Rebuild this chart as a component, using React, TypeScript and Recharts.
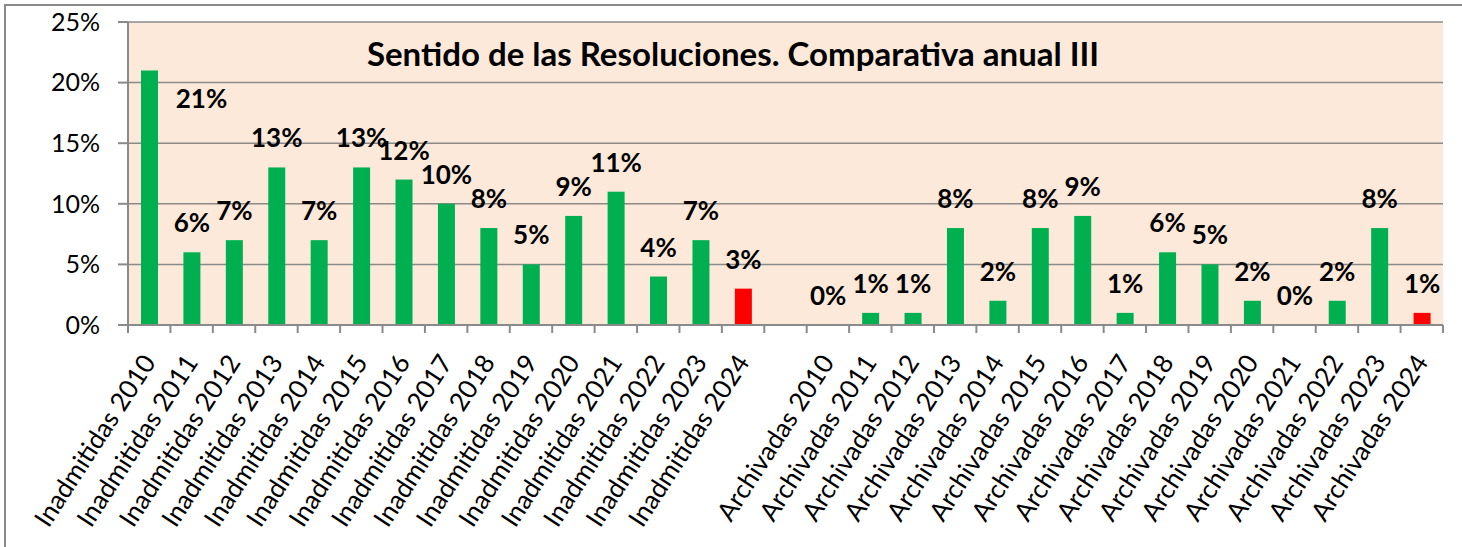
import React from 'react';
import { BarChart, Bar, XAxis, YAxis, CartesianGrid, Cell } from 'recharts';

const inadmitidasYears = [2010, 2011, 2012, 2013, 2014, 2015, 2016, 2017, 2018, 2019, 2020, 2021, 2022, 2023, 2024];
const inadmitidasValues = [21, 6, 7, 13, 7, 13, 12, 10, 8, 5, 9, 11, 4, 7, 3];
const archivadasYears = [2010, 2011, 2012, 2013, 2014, 2015, 2016, 2017, 2018, 2019, 2020, 2021, 2022, 2023, 2024];
const archivadasValues = [0, 1, 1, 8, 2, 8, 9, 1, 6, 5, 2, 0, 2, 8, 1];
const yTicks = [0, 5, 10, 15, 20, 25];
const title = 'Sentido de las Resoluciones. Comparativa anual III';
const highlightYear = 2024;

const GREEN = '#00B050';
const RED = '#FF0000';
const GRAY = '#8a8a8a';
const BG = '#FDE9D9';
const FONT = 'Lato, "Open Sans", sans-serif';

type Row = { name: string; value: number | null; year: number | null };

const data: Row[] = [
  ...inadmitidasYears.map((y, i) => ({ name: `Inadmitidas ${y}`, value: inadmitidasValues[i], year: y })),
  { name: '', value: null, year: null },
  ...archivadasYears.map((y, i) => ({ name: `Archivadas ${y}`, value: archivadasValues[i], year: y })),
];

const peak = Math.max(...inadmitidasValues, ...archivadasValues);

const XTick = (props: any) => {
  const { x, y, payload, index, visibleTicksCount } = props;
  const off = payload?.offset ?? 0;
  const isLast = index === visibleTicksCount - 1;
  return (
    <g>
      <line x1={x - off} x2={x - off} y1={y - 8} y2={y} stroke={GRAY} strokeWidth={2} />
      {isLast && <line x1={x + off} x2={x + off} y1={y - 8} y2={y} stroke={GRAY} strokeWidth={2} />}
      {payload.value ? (
        <g transform={`translate(${x - 1},${y + 24}) rotate(-57)`}>
          <text x={0} y={0} textAnchor="end" dominantBaseline="central" fontFamily={FONT} fontSize={26} fill="#000">
            {payload.value}
          </text>
        </g>
      ) : null}
    </g>
  );
};

const BarWithLabel = (props: any) => {
  const { x, y, width, height, fill, payload } = props;
  const value = payload?.value;
  if (value === null || value === undefined) return null;
  const bx = Number(x);
  const by = Number(y);
  const bw = Number(width);
  const bh = Number(height);
  const cx = bx + bw / 2;
  const top = Math.min(by, by + bh);
  const isPeak = value === peak;
  const lx = isPeak ? cx + 52 : cx;
  const ly = isPeak ? top + 38 : top - 20;
  return (
    <g>
      {Math.abs(bh) > 0 && <rect x={bx} y={top} width={bw} height={Math.abs(bh)} fill={fill} />}
      <text x={lx} y={ly} textAnchor="middle" fontFamily={FONT} fontWeight="bold" fontSize={26} fill="#000">
        {`${value}%`}
      </text>
    </g>
  );
};

export default function App() {
  return (
    <div style={{ position: 'fixed', left: 0, top: 0, width: 1462, height: 547, background: '#fff' }}>
      <div
        style={{
          position: 'absolute',
          left: 4,
          top: 4,
          width: 1458,
          height: 543,
          borderTop: `2px solid ${GRAY}`,
          borderLeft: `2px solid ${GRAY}`,
          boxSizing: 'border-box',
        }}
      />
      <BarChart
        width={1462}
        height={547}
        data={data}
        margin={{ top: 22, right: 19, left: 0, bottom: 0 }}
        barCategoryGap={0}
      >
        <CartesianGrid vertical={false} stroke={GRAY} strokeWidth={1.5} fill={BG} fillOpacity={1} />
        <XAxis
          dataKey="name"
          interval={0}
          height={222}
          tickSize={8}
          tickMargin={0}
          tickLine={false}
          axisLine={{ stroke: GRAY, strokeWidth: 2 }}
          tick={<XTick />}
        />
        <YAxis
          width={128}
          domain={[0, 25]}
          ticks={yTicks}
          tickFormatter={(v: number) => `${v}%`}
          tickSize={10}
          tickMargin={18}
          axisLine={{ stroke: GRAY, strokeWidth: 2 }}
          tickLine={{ stroke: GRAY, strokeWidth: 2 }}
          tick={{ fill: '#000', fontSize: 25, fontFamily: FONT }}
          allowDataOverflow
        />
        <Bar dataKey="value" barSize={17} isAnimationActive={false} shape={BarWithLabel}>
          {data.map((d, i) => (
            <Cell key={i} fill={d.year === highlightYear ? RED : GREEN} />
          ))}
        </Bar>
      </BarChart>
      <svg
        width={1462}
        height={100}
        style={{ position: 'absolute', left: 0, top: 0, pointerEvents: 'none' }}
      >
        <text x={733} y={66} textAnchor="middle" fontFamily={FONT} fontWeight="bold" fontSize={33} fill="#000">
          {title}
        </text>
      </svg>
    </div>
  );
}
